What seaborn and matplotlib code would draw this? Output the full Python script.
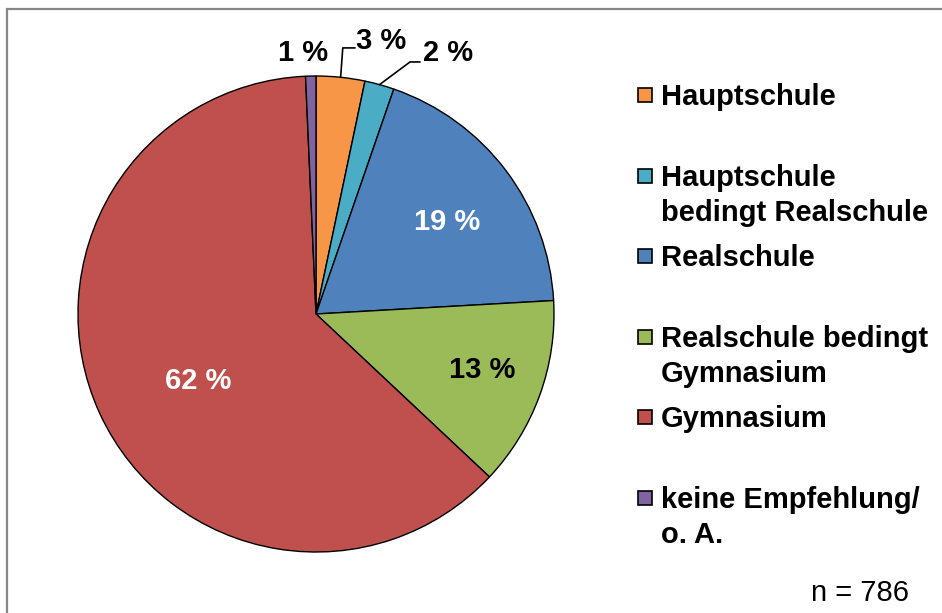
import numpy as np
import matplotlib
matplotlib.use("Agg")
import matplotlib.pyplot as plt
from matplotlib.patches import Rectangle
import seaborn as sns

categories = ["Hauptschule", "Hauptschule\nbedingt Realschule", "Realschule",
              "Realschule bedingt\nGymnasium", "Gymnasium", "keine Empfehlung/\no. A."]
shares = [3.3, 2.0, 18.8, 12.9, 62.3, 0.7]
pct_labels = ["3 %", "2 %", "19 %", "13 %", "62 %", "1 %"]
colors = ["#F79646", "#4BACC6", "#4F81BD", "#9BBB59", "#C0504D", "#8064A2"]
n_total = 786

sns.set_style("white")
plt.rcParams["font.family"] = ["Liberation Sans", "DejaVu Sans"]
plt.rcParams["text.color"] = "black"

W, H = 942, 613
fig = plt.figure(figsize=(W / 100, H / 100), dpi=100)

# pie axes: centre (316, 314), radius 238 px
ax = fig.add_axes([78 / W, (H - 552) / H, 476 / W, 476 / H])
wedges, _ = ax.pie(shares, colors=colors, startangle=90, counterclock=False,
                   wedgeprops=dict(edgecolor="black", linewidth=1.0))
ax.set_xlim(-1, 1)
ax.set_ylim(-1, 1)
ax.set_aspect("equal")
ax.axis("off")

fs = 21


def mid_angle(w):
    return np.deg2rad((w.theta1 + w.theta2) / 2)


# inner labels: (radius fraction, angle shift in degrees, colour)
inner = {2: (0.673, -2.0, "white"), 3: (0.736, 1.2, "black"), 4: (0.57, 5.0, "white")}
for i, w in enumerate(wedges):
    if i in inner:
        r, dth, c = inner[i]
        a = mid_angle(w) + np.deg2rad(dth)
        ax.text(r * np.cos(a), r * np.sin(a), pct_labels[i], ha="center", va="center",
                fontsize=fs, fontweight="bold", color=c)

# outer labels with leader lines
a = mid_angle(wedges[0])
ex, ey = np.cos(a), np.sin(a)
ax.plot([ex, ex + 0.009, 0.164], [ey, 1.118, 1.118], color="black", lw=1.2, clip_on=False)
ax.text(0.273, 1.145, pct_labels[0], ha="center", va="center", fontsize=fs, fontweight="bold")

a = mid_angle(wedges[1])
ex, ey = np.cos(a), np.sin(a)
ax.plot([ex, 0.395, 0.437], [ey, 1.059, 1.059], color="black", lw=1.2, clip_on=False)
ax.text(0.553, 1.095, pct_labels[1], ha="center", va="center", fontsize=fs, fontweight="bold")

ax.text(-0.055, 1.095, pct_labels[5], ha="center", va="center", fontsize=fs, fontweight="bold")

# legend drawn by hand (Excel-like slots)
for i, (lab, col) in enumerate(zip(categories, colors)):
    yc = 95 + i * 80.6
    fig.patches.append(Rectangle((638 / W, 1 - (yc + 7) / H), 14 / W, 14 / H,
                                 transform=fig.transFigure, facecolor=col,
                                 edgecolor="black", linewidth=1.2))
    for j, line in enumerate(lab.split("\n")):
        fig.text(661 / W, 1 - (yc + 10 + j * 35) / H, line, ha="left", va="baseline",
                 fontsize=fs, fontweight="bold")

fig.text(860 / W, 1 - 593 / H, f"n = {n_total}", ha="center", va="center", fontsize=fs)

# chart frame
fig.patches.append(Rectangle((7 / W, -0.1), 1.2, (H - 9) / H + 0.1, transform=fig.transFigure,
                             fill=False, edgecolor="#878787", linewidth=1.6))

fig.savefig("out.png", dpi=100)
